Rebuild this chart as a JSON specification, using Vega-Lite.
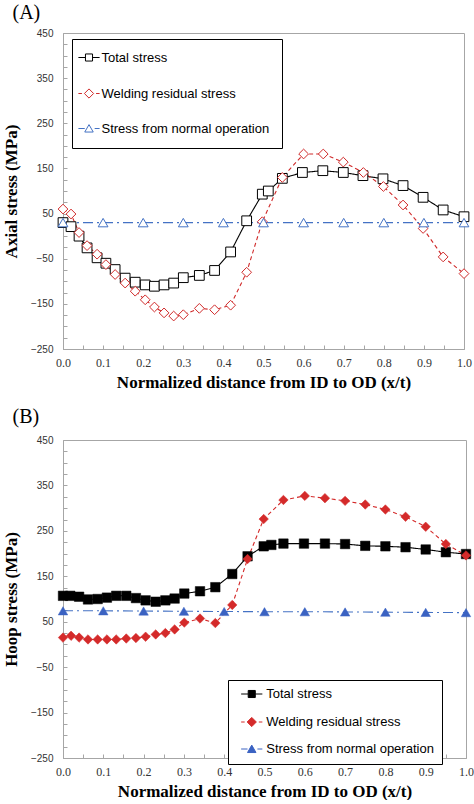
{
  "$schema": "https://vega.github.io/schema/vega-lite/v6.json",
  "background": "white",
  "padding": {"left": 1, "top": 2, "right": 0, "bottom": 0},
  "spacing": 15,
  "datasets": {
    "axial": [
      {"x": 0, "stress": 30, "series": "Total stress"},
      {"x": 0.02, "stress": 21, "series": "Total stress"},
      {"x": 0.04, "stress": 0, "series": "Total stress"},
      {"x": 0.06, "stress": -26, "series": "Total stress"},
      {"x": 0.085, "stress": -48, "series": "Total stress"},
      {"x": 0.107, "stress": -60, "series": "Total stress"},
      {"x": 0.13, "stress": -74, "series": "Total stress"},
      {"x": 0.155, "stress": -93, "series": "Total stress"},
      {"x": 0.18, "stress": -102, "series": "Total stress"},
      {"x": 0.205, "stress": -108, "series": "Total stress"},
      {"x": 0.228, "stress": -111, "series": "Total stress"},
      {"x": 0.252, "stress": -108, "series": "Total stress"},
      {"x": 0.276, "stress": -104, "series": "Total stress"},
      {"x": 0.3, "stress": -92, "series": "Total stress"},
      {"x": 0.34, "stress": -87, "series": "Total stress"},
      {"x": 0.378, "stress": -76, "series": "Total stress"},
      {"x": 0.418, "stress": -35, "series": "Total stress"},
      {"x": 0.458, "stress": 34, "series": "Total stress"},
      {"x": 0.497, "stress": 93, "series": "Total stress"},
      {"x": 0.512, "stress": 100, "series": "Total stress"},
      {"x": 0.547, "stress": 128, "series": "Total stress"},
      {"x": 0.597, "stress": 141, "series": "Total stress"},
      {"x": 0.648, "stress": 145, "series": "Total stress"},
      {"x": 0.699, "stress": 141, "series": "Total stress"},
      {"x": 0.748, "stress": 134, "series": "Total stress"},
      {"x": 0.798, "stress": 127, "series": "Total stress"},
      {"x": 0.848, "stress": 112, "series": "Total stress"},
      {"x": 0.898, "stress": 86, "series": "Total stress"},
      {"x": 0.948, "stress": 58, "series": "Total stress"},
      {"x": 1.0, "stress": 43, "series": "Total stress"},
      {"x": 0, "stress": 60, "series": "Welding residual stress"},
      {"x": 0.02, "stress": 49, "series": "Welding residual stress"},
      {"x": 0.04, "stress": 8, "series": "Welding residual stress"},
      {"x": 0.06, "stress": -21, "series": "Welding residual stress"},
      {"x": 0.085, "stress": -40, "series": "Welding residual stress"},
      {"x": 0.107, "stress": -63, "series": "Welding residual stress"},
      {"x": 0.13, "stress": -85, "series": "Welding residual stress"},
      {"x": 0.155, "stress": -104, "series": "Welding residual stress"},
      {"x": 0.18, "stress": -122, "series": "Welding residual stress"},
      {"x": 0.205, "stress": -141, "series": "Welding residual stress"},
      {"x": 0.228, "stress": -157, "series": "Welding residual stress"},
      {"x": 0.252, "stress": -170, "series": "Welding residual stress"},
      {"x": 0.276, "stress": -177, "series": "Welding residual stress"},
      {"x": 0.3, "stress": -174, "series": "Welding residual stress"},
      {"x": 0.34, "stress": -160, "series": "Welding residual stress"},
      {"x": 0.378, "stress": -163, "series": "Welding residual stress"},
      {"x": 0.418, "stress": -153, "series": "Welding residual stress"},
      {"x": 0.458, "stress": -80, "series": "Welding residual stress"},
      {"x": 0.497, "stress": 32, "series": "Welding residual stress"},
      {"x": 0.547, "stress": 130, "series": "Welding residual stress"},
      {"x": 0.6, "stress": 182, "series": "Welding residual stress"},
      {"x": 0.649, "stress": 182, "series": "Welding residual stress"},
      {"x": 0.699, "stress": 164, "series": "Welding residual stress"},
      {"x": 0.749, "stress": 141, "series": "Welding residual stress"},
      {"x": 0.799, "stress": 110, "series": "Welding residual stress"},
      {"x": 0.848, "stress": 69, "series": "Welding residual stress"},
      {"x": 0.898, "stress": 17, "series": "Welding residual stress"},
      {"x": 0.948, "stress": -46, "series": "Welding residual stress"},
      {"x": 1.0, "stress": -83, "series": "Welding residual stress"},
      {"x": 0, "stress": 30, "series": "Stress from normal operation"},
      {"x": 0.1, "stress": 30, "series": "Stress from normal operation"},
      {"x": 0.2, "stress": 30, "series": "Stress from normal operation"},
      {"x": 0.3, "stress": 30, "series": "Stress from normal operation"},
      {"x": 0.4, "stress": 30, "series": "Stress from normal operation"},
      {"x": 0.5, "stress": 30, "series": "Stress from normal operation"},
      {"x": 0.6, "stress": 30, "series": "Stress from normal operation"},
      {"x": 0.7, "stress": 30, "series": "Stress from normal operation"},
      {"x": 0.8, "stress": 30, "series": "Stress from normal operation"},
      {"x": 0.9, "stress": 30, "series": "Stress from normal operation"},
      {"x": 1.0, "stress": 30, "series": "Stress from normal operation"}
    ],
    "hoop": [
      {"x": 0, "stress": 107, "series": "Total stress"},
      {"x": 0.018, "stress": 107, "series": "Total stress"},
      {"x": 0.04, "stress": 105, "series": "Total stress"},
      {"x": 0.062, "stress": 99, "series": "Total stress"},
      {"x": 0.086, "stress": 100, "series": "Total stress"},
      {"x": 0.109, "stress": 103, "series": "Total stress"},
      {"x": 0.132, "stress": 107, "series": "Total stress"},
      {"x": 0.157, "stress": 107, "series": "Total stress"},
      {"x": 0.181, "stress": 102, "series": "Total stress"},
      {"x": 0.205, "stress": 97, "series": "Total stress"},
      {"x": 0.23, "stress": 94, "series": "Total stress"},
      {"x": 0.254, "stress": 97, "series": "Total stress"},
      {"x": 0.277, "stress": 101, "series": "Total stress"},
      {"x": 0.301, "stress": 112, "series": "Total stress"},
      {"x": 0.34, "stress": 117, "series": "Total stress"},
      {"x": 0.378, "stress": 126, "series": "Total stress"},
      {"x": 0.42, "stress": 155, "series": "Total stress"},
      {"x": 0.458, "stress": 194, "series": "Total stress"},
      {"x": 0.498, "stress": 216, "series": "Total stress"},
      {"x": 0.517, "stress": 219, "series": "Total stress"},
      {"x": 0.547, "stress": 222, "series": "Total stress"},
      {"x": 0.598, "stress": 222, "series": "Total stress"},
      {"x": 0.65, "stress": 222, "series": "Total stress"},
      {"x": 0.7, "stress": 221, "series": "Total stress"},
      {"x": 0.75, "stress": 217, "series": "Total stress"},
      {"x": 0.8, "stress": 216, "series": "Total stress"},
      {"x": 0.85, "stress": 214, "series": "Total stress"},
      {"x": 0.9, "stress": 209, "series": "Total stress"},
      {"x": 0.95, "stress": 203, "series": "Total stress"},
      {"x": 1.0, "stress": 199, "series": "Total stress"},
      {"x": 0, "stress": 15, "series": "Welding residual stress"},
      {"x": 0.02, "stress": 19, "series": "Welding residual stress"},
      {"x": 0.04, "stress": 15, "series": "Welding residual stress"},
      {"x": 0.062, "stress": 11, "series": "Welding residual stress"},
      {"x": 0.086, "stress": 11, "series": "Welding residual stress"},
      {"x": 0.109, "stress": 11, "series": "Welding residual stress"},
      {"x": 0.132, "stress": 11, "series": "Welding residual stress"},
      {"x": 0.157, "stress": 13, "series": "Welding residual stress"},
      {"x": 0.181, "stress": 14, "series": "Welding residual stress"},
      {"x": 0.205, "stress": 17, "series": "Welding residual stress"},
      {"x": 0.23, "stress": 22, "series": "Welding residual stress"},
      {"x": 0.254, "stress": 25, "series": "Welding residual stress"},
      {"x": 0.277, "stress": 33, "series": "Welding residual stress"},
      {"x": 0.301, "stress": 48, "series": "Welding residual stress"},
      {"x": 0.34, "stress": 57, "series": "Welding residual stress"},
      {"x": 0.378, "stress": 47, "series": "Welding residual stress"},
      {"x": 0.42, "stress": 87, "series": "Welding residual stress"},
      {"x": 0.458, "stress": 188, "series": "Welding residual stress"},
      {"x": 0.498, "stress": 276, "series": "Welding residual stress"},
      {"x": 0.547, "stress": 318, "series": "Welding residual stress"},
      {"x": 0.6, "stress": 327, "series": "Welding residual stress"},
      {"x": 0.65, "stress": 322, "series": "Welding residual stress"},
      {"x": 0.7, "stress": 316, "series": "Welding residual stress"},
      {"x": 0.75, "stress": 308, "series": "Welding residual stress"},
      {"x": 0.8, "stress": 297, "series": "Welding residual stress"},
      {"x": 0.85, "stress": 281, "series": "Welding residual stress"},
      {"x": 0.9, "stress": 259, "series": "Welding residual stress"},
      {"x": 0.95, "stress": 221, "series": "Welding residual stress"},
      {"x": 1.0, "stress": 196, "series": "Welding residual stress"},
      {"x": 0, "stress": 74, "series": "Stress from normal operation"},
      {"x": 0.1, "stress": 74, "series": "Stress from normal operation"},
      {"x": 0.2, "stress": 73.5, "series": "Stress from normal operation"},
      {"x": 0.3, "stress": 73, "series": "Stress from normal operation"},
      {"x": 0.4, "stress": 72.5, "series": "Stress from normal operation"},
      {"x": 0.5, "stress": 72, "series": "Stress from normal operation"},
      {"x": 0.6, "stress": 72, "series": "Stress from normal operation"},
      {"x": 0.7, "stress": 71.5, "series": "Stress from normal operation"},
      {"x": 0.8, "stress": 71, "series": "Stress from normal operation"},
      {"x": 0.9, "stress": 70.5, "series": "Stress from normal operation"},
      {"x": 1.0, "stress": 70, "series": "Stress from normal operation"}
    ],
    "keys": [
      {"key": "a"},
      {"key": "b"},
      {"key": "c"}
    ]
  },
  "vconcat": [
    {
      "title": {"text": "(A)", "anchor": "start", "frame": "bounds", "dx": 10, "offset": 5},
      "width": 401,
      "height": 316,
      "data": {"name": "axial"},
      "encoding": {
        "x": {
          "field": "x", "type": "quantitative",
          "scale": {"domain": [0, 1], "nice": false},
          "axis": {
            "title": "Normalized distance from ID to OD (x/t)",
            "values": [0, 0.05, 0.1, 0.15, 0.2, 0.25, 0.3, 0.35, 0.4, 0.45, 0.5, 0.55, 0.6, 0.65, 0.7, 0.75, 0.8, 0.85, 0.9, 0.95, 1],
            "labelExpr": "round(datum.value * 20) % 2 === 0 ? format(datum.value, '.1f') : ''"
          }
        },
        "y": {
          "field": "stress", "type": "quantitative",
          "scale": {"domain": [-250, 450], "nice": false},
          "axis": {
            "title": "Axial stress (MPa)",
            "values": [-250, -225, -200, -175, -150, -125, -100, -75, -50, -25, 0, 25, 50, 75, 100, 125, 150, 175, 200, 225, 250, 275, 300, 325, 350, 375, 400, 425, 450],
            "labelExpr": "(datum.value + 250) % 100 === 0 ? datum.label : ''"
          }
        }
      },
      "layer": [
        {
          "mark": {"type": "line", "strokeWidth": 1.1},
          "encoding": {
            "stroke": {
              "field": "series", "type": "nominal",
              "scale": {"domain": ["Total stress", "Welding residual stress", "Stress from normal operation"], "range": ["#000000", "#d02a2a", "#4472c4"]},
              "legend": null
            },
            "strokeDash": {
              "field": "series", "type": "nominal",
              "scale": {"domain": ["Total stress", "Welding residual stress", "Stress from normal operation"], "range": [[1, 0], [4, 3], [10, 4, 2, 4]]},
              "legend": null
            }
          }
        },
        {
          "mark": {"type": "point", "filled": true, "fill": "white", "strokeWidth": 1, "size": 95, "opacity": 1},
          "encoding": {
            "stroke": {
              "field": "series", "type": "nominal",
              "scale": {"domain": ["Total stress", "Welding residual stress", "Stress from normal operation"], "range": ["#000000", "#d02a2a", "#4472c4"]},
              "legend": null
            },
            "shape": {
              "field": "series", "type": "nominal",
              "scale": {"domain": ["Total stress", "Welding residual stress", "Stress from normal operation"], "range": ["square", "diamond", "triangle-up"]},
              "legend": null
            }
          }
        },
        {
          "data": {"name": "keys"},
          "mark": {"type": "point", "filled": true, "fill": "white", "strokeWidth": 1, "opacity": 0},
          "encoding": {
            "x": {"value": 0},
            "y": {"value": 0},
            "stroke": {
              "field": "key", "type": "nominal",
              "scale": {"domain": ["a", "b", "c"], "range": ["#000000", "#d02a2a", "#4472c4"]},
              "legend": {
                "orient": "none", "legendX": 9, "legendY": 6, "title": null,
                "fillColor": "white", "strokeColor": "black", "padding": 12,
                "rowPadding": 21, "symbolSize": 50, "symbolOffset": -1.5, "labelOffset": 6,
                "symbolOpacity": 1, "symbolStrokeWidth": 1,
                "labelFont": "Liberation Sans", "labelFontSize": 13, "labelColor": "black", "labelLimit": 300,
                "labelExpr": "datum.value === 'a' ? 'Total stress' : datum.value === 'b' ? 'Welding residual stress' : 'Stress from normal operation'"
              }
            },
            "shape": {
              "field": "key", "type": "nominal",
              "scale": {"domain": ["a", "b", "c"], "range": ["M-3,0H-1M1,0H3M-1,-1H1V1H-1Z", "M-3,0H-2M2,0H3M0,-1.3L1.3,0L0,1.3L-1.3,0Z", "M-3,0H-1.2M1.6,0H3M0,-1.1L1.2,1L-1.2,1Z"]},
              "legend": {
                "orient": "none", "legendX": 9, "legendY": 6, "title": null,
                "fillColor": "white", "strokeColor": "black", "padding": 12,
                "rowPadding": 21, "symbolSize": 50, "symbolOffset": -1.5, "labelOffset": 6,
                "symbolOpacity": 1, "symbolStrokeWidth": 1,
                "labelFont": "Liberation Sans", "labelFontSize": 13, "labelColor": "black", "labelLimit": 300,
                "labelExpr": "datum.value === 'a' ? 'Total stress' : datum.value === 'b' ? 'Welding residual stress' : 'Stress from normal operation'"
              }
            }
          }
        }
      ],
      "resolve": {"scale": {"stroke": "independent", "shape": "independent", "strokeDash": "independent"}}
    },
    {
      "title": {"text": "(B)", "anchor": "start", "frame": "bounds", "dx": 10, "offset": 8},
      "width": 403,
      "height": 318,
      "data": {"name": "hoop"},
      "encoding": {
        "x": {
          "field": "x", "type": "quantitative",
          "scale": {"domain": [0, 1], "nice": false},
          "axis": {
            "title": "Normalized distance from ID to OD (x/t)",
            "values": [0, 0.05, 0.1, 0.15, 0.2, 0.25, 0.3, 0.35, 0.4, 0.45, 0.5, 0.55, 0.6, 0.65, 0.7, 0.75, 0.8, 0.85, 0.9, 0.95, 1],
            "labelExpr": "round(datum.value * 20) % 2 === 0 ? format(datum.value, '.1f') : ''"
          }
        },
        "y": {
          "field": "stress", "type": "quantitative",
          "scale": {"domain": [-250, 450], "nice": false},
          "axis": {
            "title": "Hoop stress (MPa)",
            "values": [-250, -225, -200, -175, -150, -125, -100, -75, -50, -25, 0, 25, 50, 75, 100, 125, 150, 175, 200, 225, 250, 275, 300, 325, 350, 375, 400, 425, 450],
            "labelExpr": "(datum.value + 250) % 100 === 0 ? datum.label : ''"
          }
        }
      },
      "layer": [
        {
          "mark": {"type": "line", "strokeWidth": 1.1},
          "encoding": {
            "stroke": {
              "field": "series", "type": "nominal",
              "scale": {"domain": ["Total stress", "Welding residual stress", "Stress from normal operation"], "range": ["#000000", "#d42a2a", "#4472c4"]},
              "legend": null
            },
            "strokeDash": {
              "field": "series", "type": "nominal",
              "scale": {"domain": ["Total stress", "Welding residual stress", "Stress from normal operation"], "range": [[1, 0], [4, 3], [10, 4, 2, 4]]},
              "legend": null
            }
          }
        },
        {
          "mark": {"type": "point", "filled": true, "strokeWidth": 0.5, "size": 90, "opacity": 1},
          "encoding": {
            "fill": {
              "field": "series", "type": "nominal",
              "scale": {"domain": ["Total stress", "Welding residual stress", "Stress from normal operation"], "range": ["#000000", "#d42a2a", "#3a62c2"]},
              "legend": null
            },
            "stroke": {
              "field": "series", "type": "nominal",
              "scale": {"domain": ["Total stress", "Welding residual stress", "Stress from normal operation"], "range": ["#000000", "#d42a2a", "#3a62c2"]},
              "legend": null
            },
            "shape": {
              "field": "series", "type": "nominal",
              "scale": {"domain": ["Total stress", "Welding residual stress", "Stress from normal operation"], "range": ["square", "diamond", "triangle-up"]},
              "legend": null
            }
          }
        },
        {
          "data": {"name": "keys"},
          "mark": {"type": "point", "filled": true, "strokeWidth": 1, "opacity": 0},
          "encoding": {
            "x": {"value": 0},
            "y": {"value": 0},
            "fill": {
              "field": "key", "type": "nominal",
              "scale": {"domain": ["a", "b", "c"], "range": ["#000000", "#d42a2a", "#3a62c2"]},
              "legend": {
                "orient": "none", "legendX": 165, "legendY": 240, "title": null,
                "fillColor": "white", "strokeColor": "black", "padding": 7.5,
                "rowPadding": 13, "symbolSize": 50, "symbolOffset": 9.75, "labelOffset": 8,
                "symbolOpacity": 1, "symbolStrokeWidth": 1,
                "labelFont": "Liberation Sans", "labelFontSize": 13, "labelColor": "black", "labelLimit": 300,
                "labelExpr": "datum.value === 'a' ? 'Total stress' : datum.value === 'b' ? 'Welding residual stress' : 'Stress from normal operation'"
              }
            },
            "stroke": {
              "field": "key", "type": "nominal",
              "scale": {"domain": ["a", "b", "c"], "range": ["#000000", "#d42a2a", "#3a62c2"]},
              "legend": {
                "orient": "none", "legendX": 165, "legendY": 240, "title": null,
                "fillColor": "white", "strokeColor": "black", "padding": 7.5,
                "rowPadding": 13, "symbolSize": 50, "symbolOffset": 9.75, "labelOffset": 8,
                "symbolOpacity": 1, "symbolStrokeWidth": 1,
                "labelFont": "Liberation Sans", "labelFontSize": 13, "labelColor": "black", "labelLimit": 300,
                "labelExpr": "datum.value === 'a' ? 'Total stress' : datum.value === 'b' ? 'Welding residual stress' : 'Stress from normal operation'"
              }
            },
            "shape": {
              "field": "key", "type": "nominal",
              "scale": {"domain": ["a", "b", "c"], "range": ["M-3,0H-1M1,0H3M-1,-1H1V1H-1Z", "M-3,0H-2M2,0H3M0,-1.3L1.3,0L0,1.3L-1.3,0Z", "M-3,0H-1.2M1.6,0H3M0,-1.1L1.2,1L-1.2,1Z"]},
              "legend": {
                "orient": "none", "legendX": 165, "legendY": 240, "title": null,
                "fillColor": "white", "strokeColor": "black", "padding": 7.5,
                "rowPadding": 13, "symbolSize": 50, "symbolOffset": 9.75, "labelOffset": 8,
                "symbolOpacity": 1, "symbolStrokeWidth": 1,
                "labelFont": "Liberation Sans", "labelFontSize": 13, "labelColor": "black", "labelLimit": 300,
                "labelExpr": "datum.value === 'a' ? 'Total stress' : datum.value === 'b' ? 'Welding residual stress' : 'Stress from normal operation'"
              }
            }
          }
        }
      ],
      "resolve": {"scale": {"stroke": "independent", "shape": "independent", "fill": "independent", "strokeDash": "independent"}}
    }
  ],
  "config": {
    "view": {"stroke": "#a6a6a6", "strokeWidth": 1},
    "title": {"font": "Liberation Serif", "fontSize": 20, "fontWeight": "normal", "color": "black"},
    "axis": {
      "grid": false,
      "domainColor": "#a6a6a6",
      "tickColor": "#a6a6a6",
      "tickSize": -4,
      "labelColor": "#333333",
      "labelOverlap": false,
      "labelFlush": false,
      "titleFont": "Liberation Serif",
      "titleFontSize": 17,
      "titleFontWeight": "bold",
      "titleColor": "black"
    },
    "axisX": {"labelFont": "Liberation Serif", "labelFontSize": 12, "labelPadding": 12, "titlePadding": 6},
    "axisY": {"labelFont": "Liberation Sans", "labelFontSize": 10, "labelPadding": 14, "titlePadding": 10}
  }
}
